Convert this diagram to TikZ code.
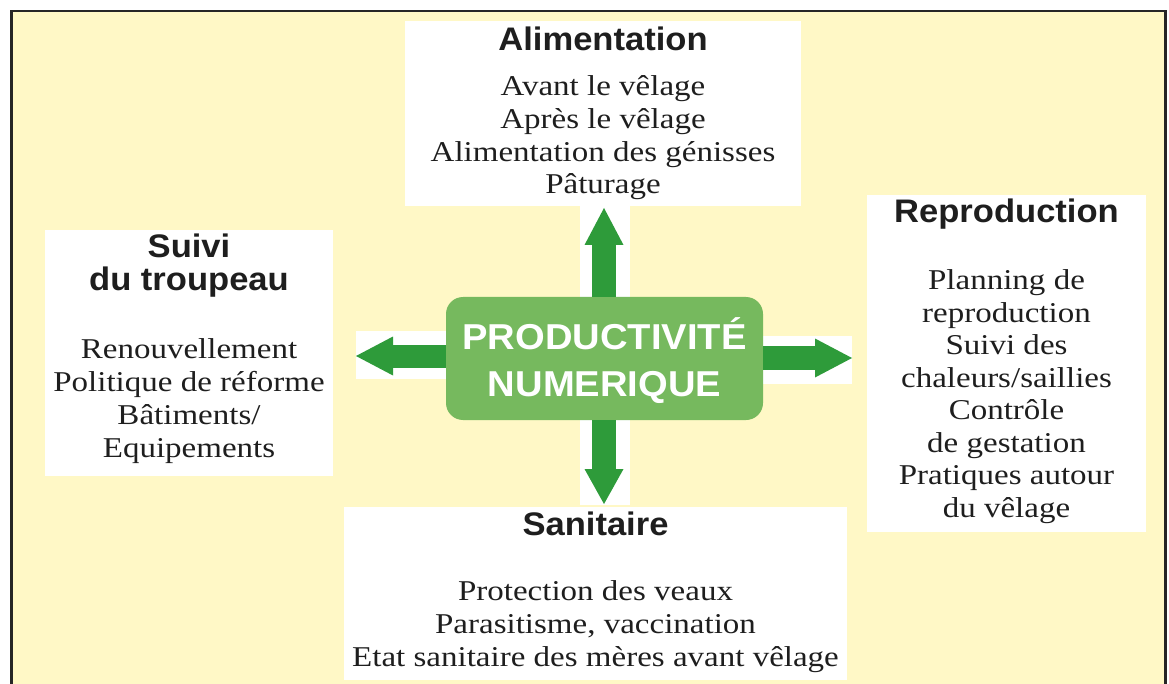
\documentclass[tikz,border=0pt]{standalone}
\usepackage{fontspec}
\setmainfont{Liberation Serif}[FakeStretch=1.15]
\newfontfamily\sansb{Liberation Sans}[FakeStretch=1.06]
\usetikzlibrary{arrows.meta,fit}
\definecolor{bgyellow}{RGB}{255,248,198}
\definecolor{framegray}{RGB}{38,38,38}
\definecolor{arrowgreen}{RGB}{46,155,58}
\definecolor{centergreen}{RGB}{118,185,94}
\definecolor{ink}{RGB}{30,30,30}
\begin{document}
\begin{tikzpicture}[x=1pt,y=-1pt,
  panel/.style={fill=white, draw=none, inner sep=0pt, outer sep=0pt},
  bodytext/.style={font=\fontsize{28.7}{33}\selectfont, text=ink, anchor=base, inner sep=0pt},
  titletext/.style={font=\sansb\bfseries\fontsize{32.6}{36}\selectfont, text=ink, anchor=base, inner sep=0pt},
  centertext/.style={font=\sansb\bfseries\fontsize{36}{46}\selectfont, text=white, anchor=base, inner sep=0pt},
  bigarrow/.style={draw=arrowgreen, line width=24pt,
    -{Triangle[width=39pt,length=37pt,line width=0pt]}},
]
\useasboundingbox (0,0) rectangle (1169,684);
\fill[white] (0,0) rectangle (1169,684);
% frame
\fill[bgyellow] (11.5,11.2) rectangle (1165.7,684);
\draw[framegray, line width=2.6pt, line join=miter] (11.5,684) -- (11.5,11.2) -- (1165.7,11.2) -- (1165.7,684);

% panels
\node[panel, fit={(405,21) (801,206)}] (alim) {};
\node[panel, fit={(45,230) (333,476)}] (suivi) {};
\node[panel, fit={(867,195) (1146,532)}] (repro) {};
\node[panel, fit={(344,507) (847,680)}] (sani) {};

% white backings of arrows
\node[panel, fit={(580,205) (630,299)}] (upbg) {};
\node[panel, fit={(580,419) (630,505)}] (downbg) {};
\node[panel, fit={(356,331) (447,379)}] (leftbg) {};
\node[panel, fit={(762,336) (852,384)}] (rightbg) {};

% centre
\node[fill=centergreen, rounded corners=17pt, minimum width=317pt, minimum height=123pt, inner sep=0pt] (prod) at (604.5,358.5) {};
\node[centertext] (prodL1) at (604.5,349.5) {PRODUCTIVITÉ};
\node[centertext] (prodL2) at (604.5,396) {NUMERIQUE};

% arrows
\coordinate (upTip) at (604,208);
\coordinate (downTip) at (604,504);
\coordinate (leftTip) at (356,356);
\coordinate (rightTip) at (852,358);
\draw[bigarrow] (prod.north -| upTip) -- (upTip);
\draw[bigarrow, -{Triangle[width=39pt,length=35pt,line width=0pt]}] (prod.south -| downTip) -- (downTip);
\draw[bigarrow, line width=23pt] (prod.west |- leftTip) -- (leftTip);
\draw[bigarrow] (prod.east |- rightTip) -- (rightTip);

% Alimentation
\node[titletext] (alimT) at (603,50.5) {Alimentation};
\foreach \t [count=\i from 0] in {Avant le vêlage, Après le vêlage, Alimentation des génisses, Pâturage}
  \node[bodytext] (alimL\i) at (603,95.5+32.8*\i) {\t};

% Suivi du troupeau
\node[titletext] (suiviT1) at (189,258) {Suivi};
\node[titletext] (suiviT2) at (189,291) {du troupeau};
\foreach \t [count=\i from 0] in {Renouvellement, Politique de réforme, Bâtiments/, Equipements}
  \node[bodytext] (suiviL\i) at (189,358+33*\i) {\t};

% Reproduction
\node[titletext] (reproT) at (1006.5,223) {Reproduction};
\foreach \t [count=\i from 0] in {Planning de, reproduction, Suivi des, chaleurs/saillies, Contrôle, de gestation, Pratiques autour, du vêlage}
  \node[bodytext] (reproL\i) at (1006.5,290+32.45*\i) {\t};

% Sanitaire
\node[titletext] (saniT) at (595.5,535) {Sanitaire};
\foreach \t [count=\i from 0] in {Protection des veaux, {Parasitisme, vaccination}, Etat sanitaire des mères avant vêlage}
  \node[bodytext] (saniL\i) at (595.5,600+33*\i) {\t};
\end{tikzpicture}
\end{document}
